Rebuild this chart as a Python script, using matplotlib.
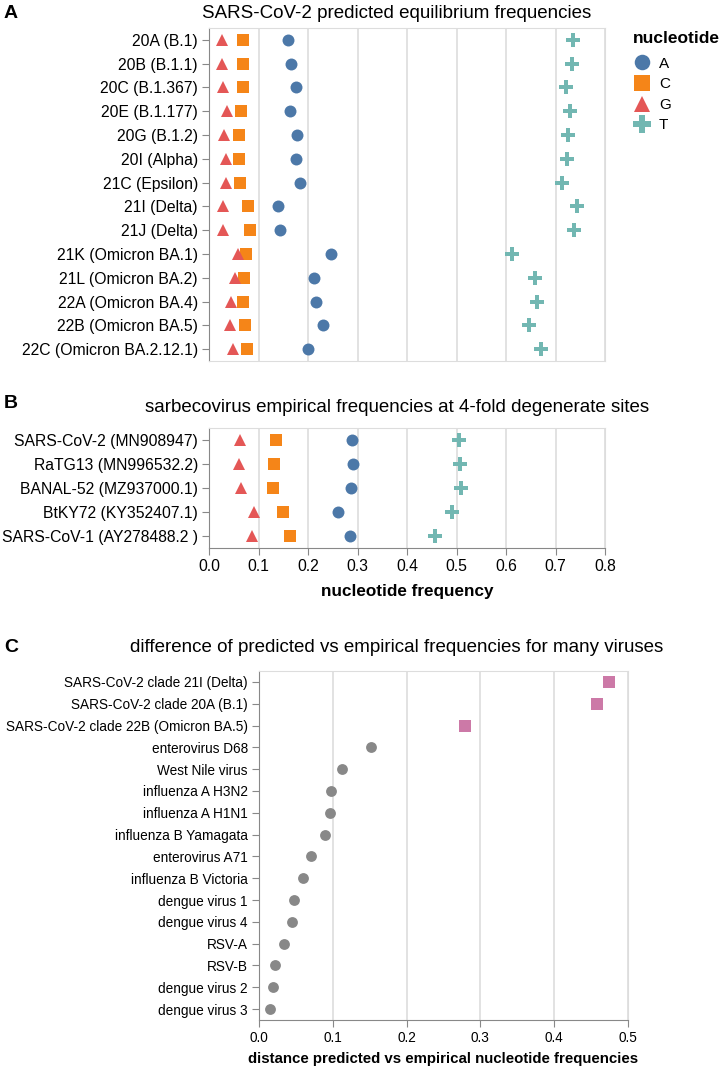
import matplotlib.pyplot as plt
from matplotlib.lines import Line2D

plt.rcParams['font.family'] = ['Liberation Sans', 'DejaVu Sans']

# panel A: predicted equilibrium frequencies
clades = ['20A (B.1)', '20B (B.1.1)', '20C (B.1.367)', '20E (B.1.177)', '20G (B.1.2)',
          '20I (Alpha)', '21C (Epsilon)', '21I (Delta)', '21J (Delta)', '21K (Omicron BA.1)',
          '21L (Omicron BA.2)', '22A (Omicron BA.4)', '22B (Omicron BA.5)', '22C (Omicron BA.2.12.1)']
pred_A = [0.160, 0.166, 0.175, 0.164, 0.177, 0.175, 0.184, 0.140, 0.143, 0.246, 0.212, 0.216, 0.231, 0.199]
pred_C = [0.069, 0.068, 0.068, 0.064, 0.061, 0.061, 0.063, 0.079, 0.083, 0.075, 0.071, 0.069, 0.073, 0.076]
pred_G = [0.026, 0.026, 0.029, 0.036, 0.030, 0.034, 0.034, 0.029, 0.029, 0.059, 0.053, 0.044, 0.042, 0.049]
pred_T = [0.736, 0.733, 0.721, 0.729, 0.725, 0.723, 0.713, 0.744, 0.738, 0.613, 0.658, 0.662, 0.646, 0.670]

# panel B: empirical frequencies at 4-fold degenerate sites
sarbeco = ['SARS-CoV-2 (MN908947)', 'RaTG13 (MN996532.2)', 'BANAL-52 (MZ937000.1)',
           'BtKY72 (KY352407.1)', 'SARS-CoV-1 (AY278488.2 )']
emp_A = [0.288, 0.290, 0.286, 0.261, 0.285]
emp_C = [0.135, 0.131, 0.130, 0.150, 0.164]
emp_G = [0.063, 0.061, 0.064, 0.091, 0.087]
emp_T = [0.506, 0.507, 0.510, 0.490, 0.457]

# panel C: distance predicted vs empirical
viruses = ['SARS-CoV-2 clade 21I (Delta)', 'SARS-CoV-2 clade 20A (B.1)',
           'SARS-CoV-2 clade 22B (Omicron BA.5)', 'enterovirus D68', 'West Nile virus',
           'influenza A H3N2', 'influenza A H1N1', 'influenza B Yamagata', 'enterovirus A71',
           'influenza B Victoria', 'dengue virus 1', 'dengue virus 4', 'RSV-A', 'RSV-B',
           'dengue virus 2', 'dengue virus 3']
distance = [0.474, 0.458, 0.279, 0.152, 0.112, 0.098, 0.096, 0.089, 0.070, 0.060,
            0.047, 0.045, 0.034, 0.022, 0.019, 0.015]
is_sars2 = [True, True, True] + [False] * 13

nts = ['A', 'C', 'G', 'T']
colors = {'A': '#4c78a8', 'C': '#f58518', 'G': '#e45756', 'T': '#72b7b2'}
markers = {'A': 'o', 'C': 's', 'G': '^', 'T': 'P'}
msizes = {'A': 8.6, 'C': 8.4, 'G': 9, 'T': 9.6}

W, H = 722, 1068
fig = plt.figure(figsize=(W / 100, H / 100), dpi=100)


def px_axes(x0, y0, x1, y1):
    return fig.add_axes([x0 / W, 1 - y1 / H, (x1 - x0) / W, (y1 - y0) / H])


def style(ax, labels, xmax, lsize, xlabels=True):
    n = len(labels)
    ax.set_ylim(n - 0.5, -0.5)
    ax.set_yticks(range(n))
    ax.set_yticklabels(labels, fontsize=lsize)
    ax.set_xlim(0, xmax)
    ax.set_xticks([i / 10 for i in range(int(round(xmax * 10)) + 1)])
    ax.grid(axis='x', color='#dddddd', linewidth=1.2)
    ax.set_axisbelow(True)
    for s in ax.spines.values():
        s.set_color('#dddddd')
    ax.spines['left'].set_color('#888888')
    ax.tick_params(axis='y', length=5, color='#888888', pad=3)
    if xlabels:
        ax.spines['bottom'].set_color('#888888')
        ax.tick_params(axis='x', length=5, color='#888888', labelsize=lsize, pad=3)
    else:
        ax.tick_params(axis='x', length=0, labelbottom=False)


def nt_plot(ax, data, labels):
    for nt in nts:
        ax.plot(data[nt], range(len(labels)), linestyle='none', marker=markers[nt],
                color=colors[nt], ms=msizes[nt], markeredgewidth=0)


axA = px_axes(209, 28, 605, 361)
nt_plot(axA, {'A': pred_A, 'C': pred_C, 'G': pred_G, 'T': pred_T}, clades)
style(axA, clades, 0.8, 11.3, xlabels=False)

axB = px_axes(209, 428, 605, 548)
nt_plot(axB, {'A': emp_A, 'C': emp_C, 'G': emp_G, 'T': emp_T}, sarbeco)
style(axB, sarbeco, 0.8, 11.3)
axB.set_xlabel('nucleotide frequency', fontsize=12.3, fontweight='bold', labelpad=7)

axC = px_axes(259, 671, 628, 1020)
for i, (d, s2) in enumerate(zip(distance, is_sars2)):
    axC.plot(d, i, linestyle='none', marker='s' if s2 else 'o',
             color='#cc79a7' if s2 else '#888888', ms=8.4 if s2 else 7.8, markeredgewidth=0)
style(axC, viruses, 0.5, 9.8)
axC.set_xlabel('distance predicted vs empirical nucleotide frequencies', fontsize=10.8,
               fontweight='bold', labelpad=5)

# titles and panel letters
fig.text(397 / W, 1 - 13.5 / H, 'SARS-CoV-2 predicted equilibrium frequencies',
         ha='center', va='center', fontsize=13.5)
fig.text(397 / W, 1 - 407 / H, 'sarbecovirus empirical frequencies at 4-fold degenerate sites',
         ha='center', va='center', fontsize=13.5)
fig.text(397 / W, 1 - 648 / H, 'difference of predicted vs empirical frequencies for many viruses',
         ha='center', va='center', fontsize=13.5)
for letter, y in [('A', 13), ('B', 403), ('C', 648)]:
    fig.text(4 / W, 1 - y / H, letter, ha='left', va='center', fontsize=14, fontweight='bold')

# legend
handles = [Line2D([], [], linestyle='none', marker=markers[nt], color=colors[nt],
                  ms=msizes[nt] * 1.3, markeredgewidth=0) for nt in nts]
leg = fig.legend(handles, nts, title='nucleotide', loc='upper left',
                 bbox_to_anchor=(627 / W, 1 - 24.5 / H), frameon=False, alignment='left',
                 title_fontproperties={'weight': 'bold', 'size': 12.5}, fontsize=11,
                 borderpad=0.4, handlelength=1.1, handletextpad=0.6, labelspacing=0.43,
                 borderaxespad=0)
leg._legend_box.sep = 8  # extra gap under the legend title

fig.savefig('out.png', dpi=100)
